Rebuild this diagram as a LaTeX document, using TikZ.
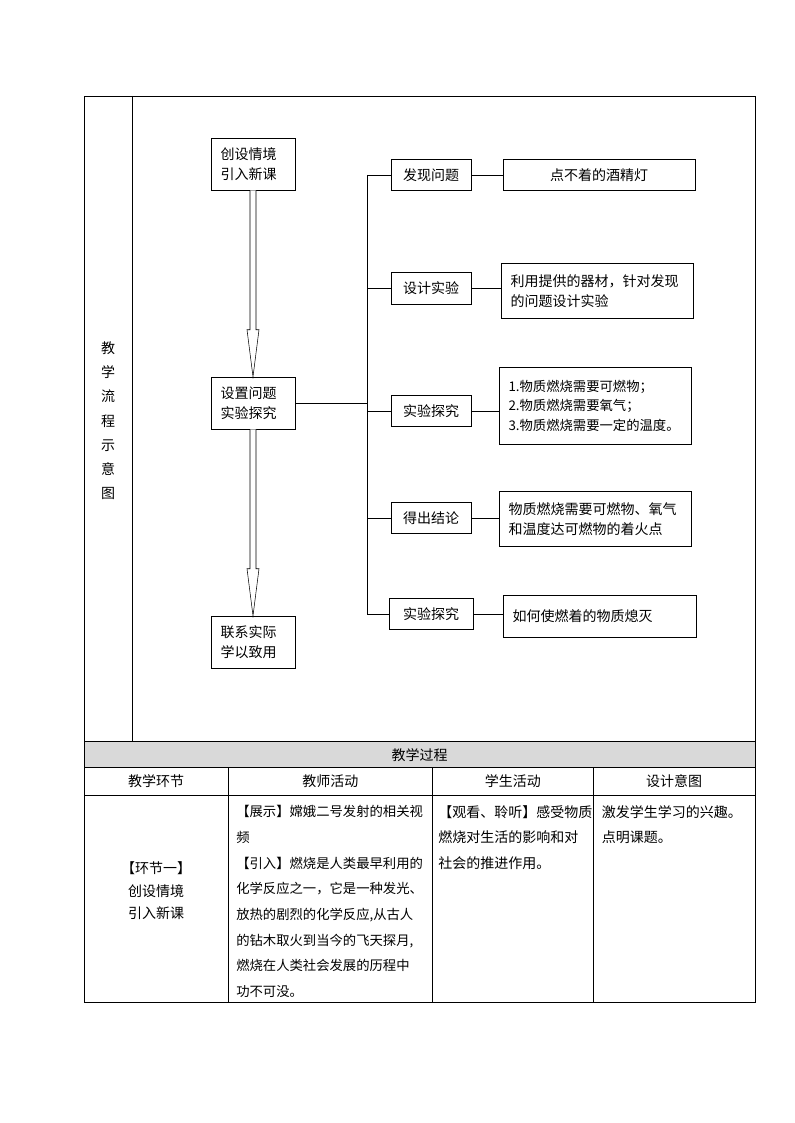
\documentclass[tikz,border=0pt]{standalone}
\usepackage{fontspec}
\setmainfont{Noto Sans CJK SC}
\usetikzlibrary{calc}
\newcommand\pxu{0.75pt}
\tikzset{
  flowbox/.style={draw, inner ysep=0pt, font=\fontsize{10.5}{15}\selectfont},
  stagebox/.style={flowbox, minimum height=52*\pxu, inner xsep=9.7*\pxu, text width=64.6*\pxu, align=left},
  stepbox/.style={flowbox, minimum width=80*\pxu, minimum height=31.5*\pxu, inner xsep=0pt, align=center},
  notebox/.style={flowbox, inner xsep=9.5*\pxu, text width=173*\pxu, align=left},
  cell/.style={inner sep=0pt, align=left, font=\fontsize{10.5}{19.3}\selectfont},
}
\begin{document}
\begin{tikzpicture}[x=0.75pt,y=-0.75pt]
  \useasboundingbox (0,0) rectangle (794,1123);
  \draw (84,96) rectangle (755.5,741.7);
  \draw (132,96) -- (132,741.7);
  \node[align=center, font=\fontsize{10.5}{18.15}\selectfont] (flowlabel) at (108,420.7) {教\\学\\流\\程\\示\\意\\图};

  \node[stagebox] (intro) at (253,164) {创设情境\\引入新课};
  \node[stagebox] (setq) at (253,403) {设置问题\\实验探究};
  \node[stagebox] (apply) at (253,642) {联系实际\\学以致用};
  \foreach \a/\b in {intro/setq, setq/apply}
    \draw[fill=white] ($(\a.south)+(-3,0)$) -- ($(\b.north)+(-3,-47)$) -- ($(\b.north)+(-6,-47)$)
      -- (\b.north) -- ($(\b.north)+(6,-47)$) -- ($(\b.north)+(3,-47)$) -- ($(\a.south)+(3,0)$);

  \node[stepbox] (find) at (431,175) {发现问题};
  \node[stepbox] (design) at (431,288.5) {设计实验};
  \node[stepbox] (test) at (431,411) {实验探究};
  \node[stepbox] (conclude) at (431,517.8) {得出结论};
  \node[stepbox, minimum width=84*\pxu] (test2) at (431,613.8) {实验探究};

  \node[notebox, align=center, minimum height=31.5*\pxu] (lamp) at (599,175) {点不着的酒精灯};
  \node[notebox, minimum height=55*\pxu] (plan) at (597,290.8) {利用提供的器材，针对发现\\的问题设计实验};
  \node[notebox, minimum height=76.3*\pxu, font=\fontsize{10}{14.6}\selectfont] (result) at (595,405.8)
    {1.物质燃烧需要可燃物；\\2.物质燃烧需要氧气；\\3.物质燃烧需要一定的温度。};
  \node[notebox, minimum height=54.7*\pxu] (concl) at (595,518.7) {物质燃烧需要可燃物、氧气\\和温度达可燃物的着火点};
  \node[notebox, text width=174*\pxu, minimum height=42*\pxu] (quench) at (599.5,616.3) {如何使燃着的物质熄灭};

  \coordinate (trunk) at (367,0);
  \draw (setq.east) -- (setq.east -| trunk);
  \draw (find.west -| trunk) -- (test2.west -| trunk);
  \foreach \n in {find,design,test,conclude,test2}
    \draw (\n.west) -- (\n.west -| trunk);
  \foreach \a/\b in {find/lamp, design/plan, test/result, conclude/concl, test2/quench}
    \draw (\a.east) -- (\a.east -| \b.west);

  \fill[black!15] (84,741.7) rectangle (755.5,767.3);
  \draw (84,741.7) rectangle (755.5,1002.7);
  \draw (84,767.3) -- (755.5,767.3);
  \draw (84,795) -- (755.5,795);
  \foreach \x in {228.3,432.3,593.3}
    \draw (\x,767.3) -- (\x,1002.7);

  \node[cell] (process) at (419.6,755) {教学过程};
  \node[cell] (h1) at (156,781) {教学环节};
  \node[cell] (h2) at (330.3,781) {教师活动};
  \node[cell] (h3) at (512.8,781) {学生活动};
  \node[cell] (h4) at (674,781) {设计意图};
  \node[cell, align=center, font=\fontsize{10.5}{16.9}\selectfont] (stage) at (156,890.8) {【环节一】\\创设情境\\引入新课};
  \node[cell, anchor=north west, font=\fontsize{10}{19.3}\selectfont] (teacher) at (236,805)
    {【展示】嫦娥二号发射的相关视\\频\\【引入】燃烧是人类最早利用的\\化学反应之一，它是一种发光、\\放热的剧烈的化学反应,从古人\\的钻木取火到当今的飞天探月,\\燃烧在人类社会发展的历程中\\功不可没。};
  \node[cell, anchor=north west] (student) at (438,805) {【观看、聆听】感受物质\\燃烧对生活的影响和对\\社会的推进作用。};
  \node[cell, anchor=north west] (intent) at (601.7,805) {激发学生学习的兴趣。\\点明课题。};
\end{tikzpicture}
\end{document}
